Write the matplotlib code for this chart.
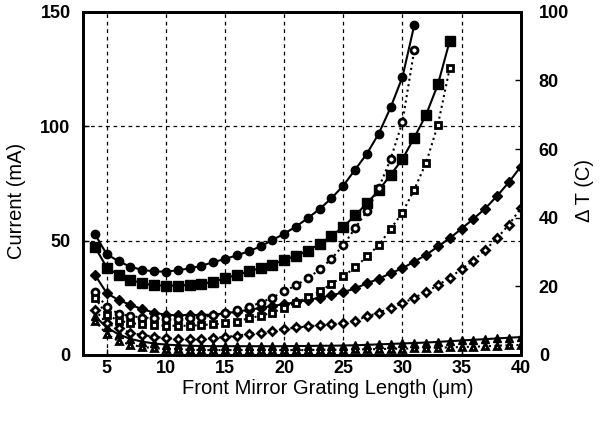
import numpy as np
import matplotlib.pyplot as plt

plt.rcParams['font.family'] = ['Liberation Sans', 'DejaVu Sans']

# grating length (um)
x_circ = np.arange(4, 32)
x_sq = np.arange(4, 35)
x_all = np.arange(4, 41)

# current (mA), solid lines, left axis
cur_circ = [52.8, 44.0, 41.0, 38.5, 37.2, 36.5, 36.4, 37.0, 37.8, 39.0, 40.5, 42.0,
            43.5, 45.3, 47.4, 50.2, 53.0, 56.1, 59.8, 63.8, 68.5, 74.0, 81.0, 88.0,
            96.8, 108.2, 121.5, 144.2]
cur_sq = [47.3, 38.2, 35.0, 32.8, 31.3, 30.4, 30.3, 30.3, 30.6, 31.0, 32.0, 33.5,
          35.0, 36.5, 38.0, 39.5, 41.5, 43.4, 45.5, 48.5, 52.0, 56.0, 61.0, 66.3,
          72.0, 78.7, 85.6, 95.0, 105.0, 118.3, 137.3]
cur_dia = [35.0, 27.0, 24.0, 21.9, 20.0, 18.5, 17.5, 17.4, 17.4, 17.5, 17.6, 18.2,
           18.9, 19.7, 20.5, 21.4, 22.2, 23.0, 24.0, 25.0, 26.0, 27.4, 29.1, 31.3,
           33.3, 35.7, 37.9, 40.8, 43.7, 47.4, 51.0, 55.2, 59.5, 64.0, 69.5, 75.5,
           82.3]
cur_tri = [17.0, 12.0, 9.0, 7.0, 5.8, 5.0, 4.5, 4.2, 4.0, 3.9, 3.8, 3.8,
           3.8, 3.8, 3.8, 3.8, 3.8, 3.9, 3.9, 4.0, 4.0, 4.1, 4.2, 4.4,
           4.6, 4.8, 5.0, 5.2, 5.4, 5.7, 6.0, 6.3, 6.6, 6.9, 7.2, 7.5,
           7.8]

# temperature rise (C), dotted lines, right axis
dt_circ = [18.3, 14.0, 12.0, 11.3, 10.9, 10.7, 10.5, 10.5, 10.7, 11.0, 11.5, 12.1,
           13.0, 14.0, 15.2, 16.7, 18.5, 20.3, 22.3, 24.9, 28.0, 32.0, 36.9, 42.0,
           48.7, 57.1, 67.9, 88.9]
dt_sq = [16.7, 11.7, 10.0, 9.3, 8.9, 8.7, 8.5, 8.5, 8.5, 8.7, 8.9, 9.2,
         9.7, 10.7, 11.4, 12.3, 13.7, 15.1, 16.9, 18.5, 20.7, 22.9, 25.5, 28.7,
         32.0, 36.7, 41.5, 48.2, 56.0, 67.1, 83.6]
dt_dia = [13.1, 9.2, 7.8, 6.5, 5.8, 5.3, 4.9, 4.7, 4.7, 4.7, 4.9, 5.2,
          5.6, 6.1, 6.5, 7.0, 7.5, 8.0, 8.3, 8.7, 9.0, 9.3, 10.0, 11.2,
          12.3, 13.7, 15.0, 16.7, 18.3, 20.3, 22.5, 25.0, 27.5, 30.6, 34.0, 38.0,
          42.7]
dt_tri = [10.0, 6.0, 4.0, 3.0, 2.3, 2.0, 1.7, 1.6, 1.5, 1.4, 1.4, 1.4,
          1.4, 1.4, 1.4, 1.4, 1.4, 1.4, 1.4, 1.5, 1.5, 1.5, 1.6, 1.6,
          1.7, 1.8, 1.8, 1.9, 2.0, 2.1, 2.2, 2.3, 2.4, 2.5, 2.7, 2.8,
          2.9]

fig = plt.figure(figsize=(6.02, 4.23), dpi=100)
ax = fig.add_axes([0.138, 0.161, 0.727, 0.811])
ax2 = ax.twinx()

k = dict(color='black', lw=1.5)
ax.plot(x_circ, cur_circ, '-', marker='o', ms=6, **k)
ax.plot(x_sq, cur_sq, '-', marker='s', ms=6.5, **k)
ax.plot(x_all, cur_dia, '-', marker='D', ms=5, **k)
ax.plot(x_all, cur_tri, '-', marker='^', ms=5.5, **k)

o = dict(color='black', lw=1.5, ls=':', mfc='white', mec='black', mew=2)
ax2.plot(x_circ, dt_circ, marker='o', ms=5, **o)
ax2.plot(x_sq, dt_sq, marker='s', ms=5, **o)
ax2.plot(x_all, dt_dia, marker='D', ms=4.5, **o)
ax2.plot(x_all, dt_tri, marker='^', ms=5, **o)

ax.set_xlim(3, 40)
ax.set_ylim(0, 150)
ax2.set_ylim(0, 100)
ax.set_xticks(range(5, 41, 5))
ax.set_yticks([0, 50, 100, 150])
ax2.set_yticks(range(0, 101, 20))
ax.grid(True, color='black', ls=(0, (3, 3)), lw=0.9)

ax.tick_params(axis='y', pad=9)
ax.tick_params(axis='x', pad=4)
ax2.tick_params(axis='y', pad=13)
for a in (ax, ax2):
    a.tick_params(direction='in', length=4, width=1, labelsize=13)
    for lab in a.get_xticklabels() + a.get_yticklabels():
        lab.set_fontweight('bold')
    for s in a.spines.values():
        s.set_linewidth(2)

ax.set_xlabel('Front Mirror Grating Length (\u03bcm)', fontsize=14.5)
ax.set_ylabel('Current (mA)', fontsize=14.5)
ax2.set_ylabel('\u0394 T (C)', fontsize=14.5)
ax.xaxis.set_label_coords(0.56, -0.07)
ax.yaxis.set_label_coords(-0.13, 0.45)
ax2.yaxis.set_label_coords(1.125, 0.48)

plt.savefig('out.png', dpi=100)
